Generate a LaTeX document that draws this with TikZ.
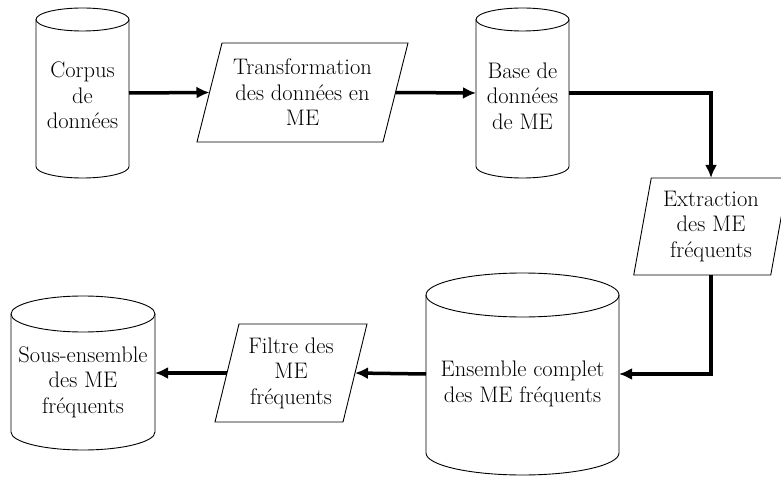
\documentclass[tikz,border=0pt]{standalone}
\usepackage{fontspec}
\usetikzlibrary{arrows.meta,calc}
\tikzset{
  shapeline/.style={draw=black, line width=0.9pt},
  geom/.style={draw=none, inner sep=0pt, outer sep=0pt},
  txt/.style={align=center, inner sep=0pt, font=\fontsize{22.5pt}{25.5pt}\selectfont},
  flow/.style={line width=3.5pt, -{Latex[length=13pt,width=12pt]}}
}
\newcommand{\cylfrom}[3]{%
  \draw[shapeline] ([yshift=-#3]#1.north west) -- ([yshift=#3]#1.south west)
    arc[start angle=180, end angle=360, x radius=#2, y radius=#3]
    -- ([yshift=-#3]#1.north east);
  \draw[shapeline] ([yshift=-#3]#1.north) ellipse [x radius=#2, y radius=#3];
}
\newcommand{\parafrom}[2]{%
  \draw[shapeline] ([xshift=-#2]#1.south west) -- ([xshift=#2]#1.north west)
    -- ([xshift=#2]#1.north east) -- ([xshift=-#2]#1.south east) -- cycle;
}
\begin{document}
\begin{tikzpicture}[x=1pt,y=-1pt]
\useasboundingbox (0,0) rectangle (781,478);
\clip (0,0) rectangle (781,478);
% cylinders (geometry)
\node[geom, minimum width=93pt, minimum height=170pt] (corpus) at (82.5,93) {};
\node[geom, minimum width=93pt, minimum height=170pt] (base) at (522.5,93) {};
\node[geom, minimum width=193pt, minimum height=202pt] (ens) at (522.5,374) {};
\node[geom, minimum width=144pt, minimum height=154pt] (sous) at (83,373) {};
\cylfrom{corpus}{46.5pt}{11.5pt}
\cylfrom{base}{46.5pt}{11.5pt}
\cylfrom{ens}{96.5pt}{22pt}
\cylfrom{sous}{72pt}{18pt}
% cylinder texts
\node[txt] (corpustxt) at (82.5,95.5) {Corpus\\de\\données};
\node[txt] (basetxt) at (522.5,96) {Base de\\données\\de ME};
\node[txt] (enstxt) at (522.5,384) {Ensemble complet\\des ME fréquents};
\node[txt] (soustxt) at (83,382) {Sous-ensemble\\des ME\\fréquents};
% parallelograms
\node[geom, txt, minimum width=186pt, minimum height=99pt] (transf) at (302.5,92.5) {Transformation\\des données en\\ME};
\node[geom, txt, minimum width=137pt, minimum height=97pt] (extr) at (711,226.5) {Extraction\\des ME\\fréquents};
\node[geom, txt, minimum width=128pt, minimum height=98pt] (filtre) at (291,373) {Filtre des\\ME\\fréquents};
\parafrom{transf}{12.5pt}
\parafrom{extr}{8.75pt}
\parafrom{filtre}{12pt}
% connectors
\draw[flow] (corpus.east) -- (transf.west);
\draw[flow] (transf.east) -- (base.west);
\draw[flow] (base.east) -| (extr.north);
\draw[flow] (extr.south) |- (ens.east);
\draw[flow] (ens.west) -- (filtre.east);
\draw[flow] (filtre.west) -- (sous.east);
\end{tikzpicture}
\end{document}
